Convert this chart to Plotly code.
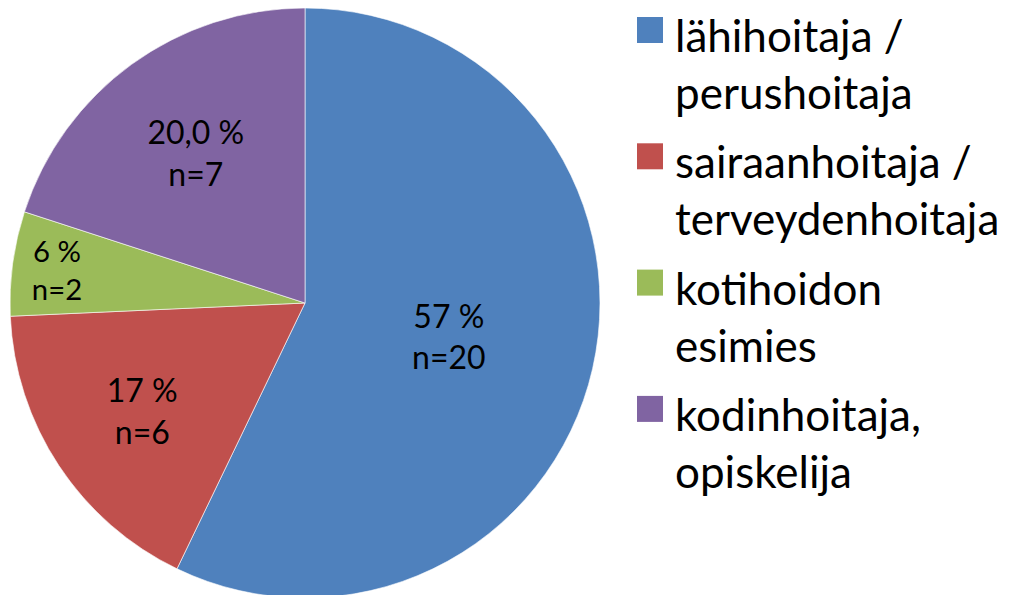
import plotly.graph_objects as go

categories = ["lähihoitaja / perushoitaja", "sairaanhoitaja / terveydenhoitaja",
              "kotihoidon esimies", "kodinhoitaja, opiskelija"]
legend_lines = [["lähihoitaja /", "perushoitaja"],
                ["sairaanhoitaja /", "terveydenhoitaja"],
                ["kotihoidon", "esimies"],
                ["kodinhoitaja,", "opiskelija"]]
counts = [20, 6, 2, 7]
pct_labels = ["57 %", "17 %", "6 %", "20,0 %"]
colors = ["#4F81BD", "#C0504D", "#9BBB59", "#8064A2"]

W, H = 1012, 595
FONT = "Lato"
OFF = 8  # page body margin offset

texts = [f"{p}<br>n={n}" for p, n in zip(pct_labels, counts)]

fig = go.Figure(go.Pie(
    labels=categories,
    values=counts,
    text=texts,
    textinfo="text",
    textposition="inside",
    insidetextorientation="horizontal",
    textfont=dict(family=FONT, size=32, color="black"),
    marker=dict(colors=colors, line=dict(color="rgba(255,255,255,0.6)", width=1)),
    sort=False,
    direction="clockwise",
    rotation=0,
    showlegend=False,
    hoverinfo="label+value",
    domain=dict(x=[(10 - OFF) / W, (600 - OFF) / W], y=[5 / H, 1]),
))

shapes = []
annotations = []
item_step = 126.3
sq = 26
for i, (lines, col) in enumerate(zip(legend_lines, colors)):
    top = 17 + item_step * i - OFF
    x0 = 637 - OFF
    shapes.append(dict(type="rect", xref="paper", yref="paper",
                       x0=x0 / W, x1=(x0 + sq) / W,
                       y0=1 - (top + sq) / H, y1=1 - top / H,
                       fillcolor=col, line=dict(width=0)))
    annotations.append(dict(xref="paper", yref="paper",
                            x=(674 - OFF) / W, y=1 - (item_step * i) / H,
                            xanchor="left", yanchor="top", align="left",
                            borderpad=0,
                            showarrow=False, text="<br>".join(lines),
                            font=dict(family=FONT, size=44, color="black")))

fig.update_layout(
    width=W, height=H,
    margin=dict(l=0, r=0, t=0, b=0),
    paper_bgcolor="white", plot_bgcolor="white",
    shapes=shapes, annotations=annotations,
)

fig.write_html("out.html")
